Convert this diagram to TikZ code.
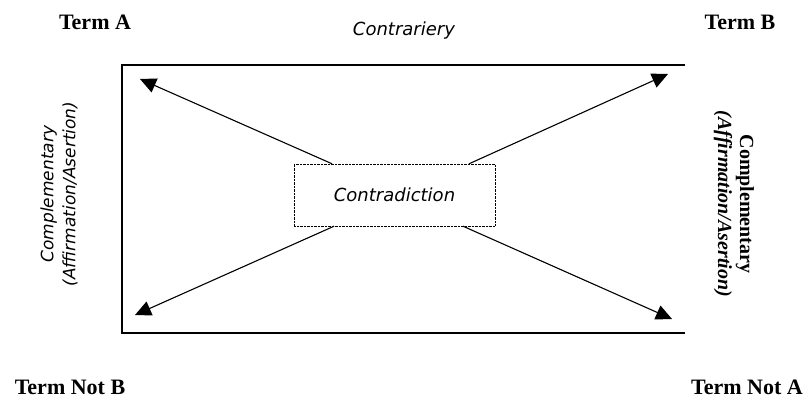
\documentclass[tikz,border=0pt]{standalone}
\usepackage{fontspec}
\setmainfont{Liberation Serif}
\newfontfamily\slantfont{DejaVu Sans}
\usetikzlibrary{arrows.meta, calc, positioning}

\begin{document}
\begin{tikzpicture}[x=1pt, y=-1pt, >={Triangle[length=16pt, width=15pt]},
    term/.style={font=\fontsize{22}{26}\selectfont\bfseries},
    slant/.style={font=\fontsize{18}{22}\selectfont\slantfont\itshape},
    link/.style={->, line width=1.1pt}]
    \useasboundingbox (0,0) rectangle (807,399);

    % open frame, no right side
    \draw[line width=1.3pt] (685,65) -- (122,65) -- (122,333) -- (685,333);

    \node[term] (tA) at (95,22) {Term A};
    \node[term] (tB) at (740,22) {Term B};
    \node[term] (tnB) at (70,387) {Term Not B};
    \node[term] (tnA) at (747,387) {Term Not A};

    \node[slant] (contrary) at (404,31) {Contrariery};
    \node[slant, font=\fontsize{17}{22}\selectfont\slantfont\itshape, align=center, rotate=90] (compL) at (59,194)
        {Complementary\\(Affirmation/Asertion)};
    \node[font=\fontsize{20}{22}\selectfont\bfseries, align=center, rotate=-90] (compR) at (734,204)
        {Complementary\\\textit{(Affirmation/Asertion)}};

    \node[draw, densely dotted, minimum width=201pt, minimum height=62pt, slant] (contra) at (394.5,195) {Contradiction};

    \coordinate (ul) at (140,79);
    \coordinate (ur) at (668,74);
    \coordinate (ll) at (135,315);
    \coordinate (lr) at (672,319);

    \draw[link] ($(contra.north west)!0.19!(contra.north east)$) -- (ul);
    \draw[link] ($(contra.north west)!0.87!(contra.north east)$) -- (ur);
    \draw[link] ($(contra.south west)!0.20!(contra.south east)$) -- (ll);
    \draw[link] ($(contra.south west)!0.84!(contra.south east)$) -- (lr);
\end{tikzpicture}
\end{document}
